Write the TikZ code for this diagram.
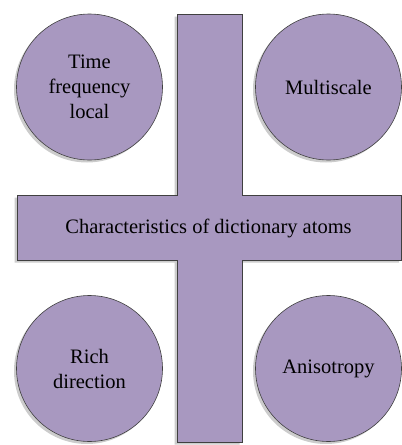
\documentclass[tikz,border=0pt]{standalone}
\usepackage{fontspec}
\setmainfont{Liberation Serif}
\usetikzlibrary{positioning, shadows}
\definecolor{atomfill}{RGB}{168,152,192}
\definecolor{atomline}{RGB}{64,64,64}
\tikzset{
  softshadow/.style={drop shadow={shadow xshift=-2.5pt, shadow yshift=-2.5pt, opacity=0.4}},
  atom/.style={circle, draw=atomline, fill=atomfill, line width=0.6pt, minimum size=146pt, inner sep=0pt, align=center, font=\fontsize{20.5}{25}\selectfont, softshadow},
  crossbar/.style={draw=atomline, fill=atomfill, line width=0.6pt, softshadow},
  lbl/.style={font=\fontsize{20.5}{25}\selectfont}
}
\begin{document}
\begin{tikzpicture}[x=1pt, y=-1pt]
\useasboundingbox (0,0) rectangle (402,445);
% the cross
\path[crossbar] (177,14) -- (242,14) -- (242,195) -- (401.5,195) -- (401.5,260) -- (242,260)
  -- (242,442) -- (177,442) -- (177,260) -- (17,260) -- (17,195) -- (177,195) -- cycle;
\node[lbl] (title) at (208.5,228.5) {Characteristics of dictionary atoms};
% the four atoms
\node[atom] (tfl) at (89.5,87) {Time\\frequency\\local};
\node[atom] (ms) at (328.5,87) {Multiscale};
\node[atom] (rd) at (89.5,368.5) {Rich\\direction};
\node[atom] (an) at (328.5,368.5) {Anisotropy};
\end{tikzpicture}
\end{document}
